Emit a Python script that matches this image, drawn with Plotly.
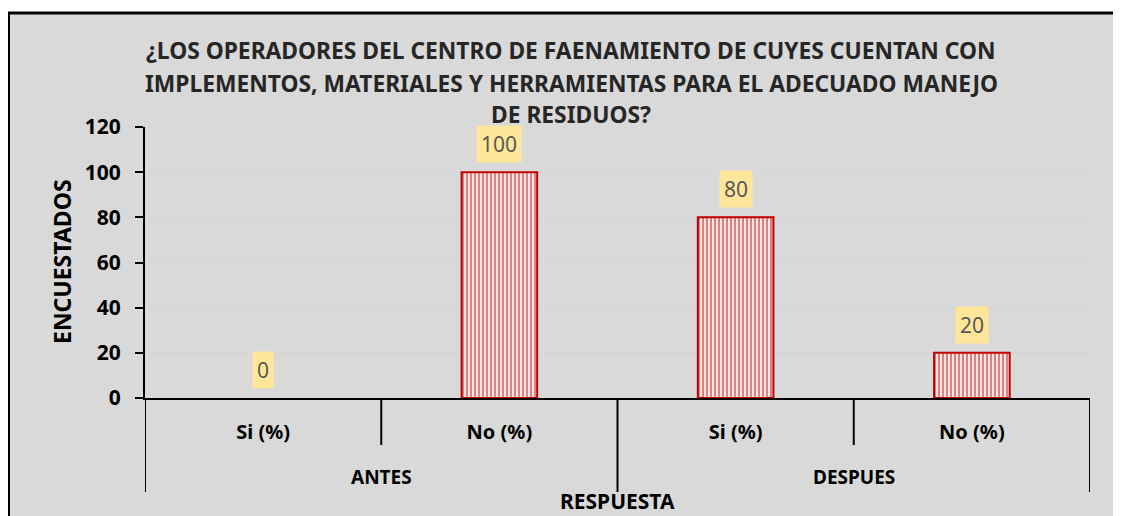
import plotly.graph_objects as go

# ---- data ----
groups = ["ANTES", "ANTES", "DESPUES", "DESPUES"]
categories = ["Si (%)", "No (%)", "Si (%)", "No (%)"]
values = [0, 100, 80, 20]
group_names = ["ANTES", "DESPUES"]
y_ticks = [0, 20, 40, 60, 80, 100, 120]

title_lines = ["¿LOS OPERADORES DEL CENTRO DE FAENAMIENTO DE CUYES CUENTAN CON",
               "IMPLEMENTOS, MATERIALES Y HERRAMIENTAS PARA EL ADECUADO MANEJO",
               "DE RESIDUOS?"]

OFF = 8  # page body margin
W, H = 1121 - OFF, 516 - OFF
L, R, T, B = 145 - OFF, 31, 127 - OFF, 118
PW, PH = W - L - R, H - T - B
FONT = "Noto Sans"

def px(x):  # reference-screen x -> paper
    return (x - OFF - L) / PW

def py(y):  # reference-screen y -> paper
    return (H - B - (y - OFF)) / PH

xs = list(range(len(values)))

fig = go.Figure()
fig.add_trace(go.Bar(
    x=xs, y=values, width=0.32,
    marker=dict(color="white",
                line=dict(color="#C00000", width=[0 if v == 0 else 2 for v in values]),
                pattern=dict(shape="|", fgcolor="#C00000", bgcolor="white",
                             size=4, solidity=0.6)),
    hoverinfo="skip",
))

shapes = []
# outer frame
shapes.append(dict(type="rect", xref="paper", yref="paper", layer="below",
                   x0=px(8.5), x1=px(1140), y0=py(540), y1=py(13),
                   fillcolor="#D9D9D9", line=dict(color="black", width=3)))
# category separators
n = len(values)
for i in range(n + 1):
    xb = i - 0.5
    if 0 < i < n:
        is_group_edge = groups[i - 1] != groups[i]
    else:
        is_group_edge = True
    y_end = py(492) if is_group_edge else py(445)
    shapes.append(dict(type="line", xref="x", yref="paper", x0=xb, x1=xb,
                       y0=0, y1=y_end, line=dict(color="black", width=2)))

annotations = []
# data labels
for x, v in zip(xs, values):
    annotations.append(dict(x=x, y=v, xref="x", yref="y", text=str(v),
                            showarrow=False, yanchor="bottom", xanchor="center",
                            yshift=9, bgcolor="#FFE699", borderpad=4,
                            font=dict(family=FONT, size=21, color="#595959")))
# group labels
for g in group_names:
    idx = [i for i, gg in enumerate(groups) if gg == g]
    annotations.append(dict(x=sum(idx) / len(idx), y=py(477), xref="x", yref="paper",
                            text=g, showarrow=False, xanchor="center", yanchor="middle",
                            font=dict(family=FONT, size=19, color="black", weight="bold")))
# axis titles
annotations.append(dict(x=(n - 1) / 2, y=py(501), xref="x", yref="paper",
                        text="RESPUESTA", showarrow=False,
                        xanchor="center", yanchor="middle",
                        font=dict(family=FONT, size=21, color="black", weight="bold")))
annotations.append(dict(x=px(62), y=py(262), xref="paper", yref="paper",
                        text="ENCUESTADOS", showarrow=False, textangle=-90,
                        xanchor="center", yanchor="middle",
                        font=dict(family=FONT, size=23, color="black", weight="bold")))
# title
for line, yc in zip(title_lines, [50, 83, 115]):
    annotations.append(dict(x=px(571), y=py(yc), xref="paper", yref="paper",
                            text=line, showarrow=False,
                            xanchor="center", yanchor="middle",
                            font=dict(family=FONT, size=22.8, color="#262626",
                                      weight="bold")))

fig.update_layout(
    width=W, height=H,
    margin=dict(l=L, r=R, t=T, b=B, pad=0),
    paper_bgcolor="white", plot_bgcolor="rgba(0,0,0,0)",
    showlegend=False,
    shapes=shapes, annotations=annotations,
    xaxis=dict(range=[-0.5, n - 0.5], tickvals=xs, ticktext=categories,
               showgrid=False, zeroline=False, showline=True,
               linecolor="black", linewidth=2, ticks="",
               ticklabelstandoff=15,
               tickfont=dict(family=FONT, size=20, color="black", weight="bold")),
    yaxis=dict(range=[0, 120], tickvals=y_ticks,
               showgrid=True, gridcolor="#D3D3D3", gridwidth=1,
               zeroline=False, showline=True, linecolor="black", linewidth=2,
               ticks="outside", ticklen=8, tickwidth=2, tickcolor="black",
               ticklabelstandoff=10,
               tickfont=dict(family=FONT, size=21, color="black", weight="bold")),
)

fig.write_html("out.html")
